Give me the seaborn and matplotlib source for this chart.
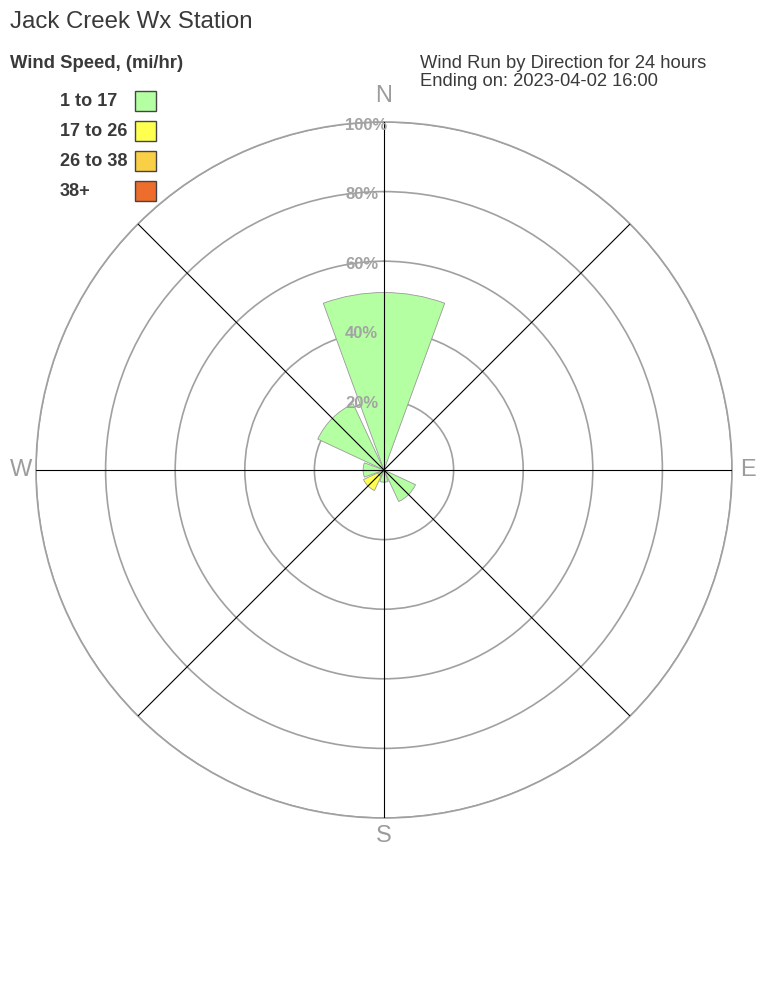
import numpy as np
import matplotlib
matplotlib.use("Agg")
import matplotlib.pyplot as plt
from matplotlib.patches import Rectangle
import seaborn as sns

# ---- data ----
directions = ["N", "NE", "E", "SE", "S", "SW", "W", "NW"]
dir_degrees = [0, 45, 90, 135, 180, 225, 270, 315]
speed_bins = ["1 to 17", "17 to 26", "26 to 38", "38+"]
pct_1_17 = [51.0, 0.0, 0.0, 10.0, 3.5, 2.0, 6.0, 21.0]
pct_17_26 = [0.0, 0.0, 0.0, 0.0, 0.0, 4.5, 0.0, 0.0]
pct_26_38 = [0.0, 0.0, 0.0, 0.0, 0.0, 0.0, 0.0, 0.0]
pct_38_up = [0.0, 0.0, 0.0, 0.0, 0.0, 0.0, 0.0, 0.0]
ring_ticks = [20, 40, 60, 80, 100]
ring_labels = ["20%", "40%", "60%", "80%", "100%"]
bin_colors = ["#b3ffa1", "#ffff50", "#f9cf46", "#ee6c2c"]

title = "Jack Creek Wx Station"
legend_title = "Wind Speed, (mi/hr)"
subtitle_lines = ["Wind Run by Direction for 24 hours", "Ending on: 2023-04-02 16:00"]

# ---- style ----
sns.set_style("white")
plt.rcParams["font.family"] = ["Liberation Sans", "DejaVu Sans"]
palette = sns.color_palette(bin_colors)

W, H = 768, 1008
fig = plt.figure(figsize=(W / 100, H / 100), dpi=100)
fig.patch.set_facecolor("white")

cx, cy, R = 384, 470, 348
ax = fig.add_axes([(cx - R) / W, (H - cy - R) / H, 2 * R / W, 2 * R / H],
                  projection="polar")
ax.set_theta_zero_location("N")
ax.set_theta_direction(-1)
ax.set_ylim(0, 100)
ax.set_xticks([])
ax.set_rticks(ring_ticks)
ax.set_yticklabels([])
ax.yaxis.grid(True, color="#a0a0a0", linewidth=1.2)
ax.spines["polar"].set_color("#a0a0a0")
ax.spines["polar"].set_linewidth(1.2)
ax.set_axisbelow(True)
ax.set_facecolor("white")

theta = np.radians(dir_degrees)
width = np.radians(40)
bottom = np.zeros(len(directions))
for vals, col in zip([pct_1_17, pct_17_26, pct_26_38, pct_38_up], palette):
    vals = np.array(vals)
    m = vals > 0
    if m.any():
        ax.bar(theta[m], vals[m], width=width, bottom=bottom[m], color=col,
               edgecolor="#9a9a9a", linewidth=0.6, zorder=2)
    bottom = bottom + vals

for t in theta:
    ax.plot([t, t], [0, 100], color="black", linewidth=0.8, zorder=3)

for r, lab in zip(ring_ticks, ring_labels):
    ax.annotate(lab, xy=(0, r), xytext=(-39, -3), textcoords="offset pixels",
                ha="left", va="center", fontsize=12, fontweight="bold",
                color="#a3a3a3", zorder=5, annotation_clip=False)

# compass labels
def ftext(x, y, s, **kw):
    fig.text(x / W, 1 - y / H, s, **kw)

comp_kw = dict(fontsize=17, color="#9c9c9c", ha="center", va="center")
ftext(384, 96, "N", **comp_kw)
ftext(21, 470, "W", **comp_kw)
ftext(748, 470, "E", **comp_kw)
ftext(384, 836, "S", **comp_kw)

txt_col = "#3a3a3a"
ftext(10, 22, title, fontsize=17.3, color=txt_col, ha="left", va="center")
ftext(10, 64, legend_title, fontsize=13.3, fontweight="bold", color=txt_col,
      ha="left", va="center")
for i, line in enumerate(subtitle_lines):
    ftext(420, 63 + 19 * i, line, fontsize=13.2, color=txt_col, ha="left", va="center")

for i, (lab, col) in enumerate(zip(speed_bins, palette)):
    yc = 101 + 30 * i
    ftext(60, yc, lab, fontsize=13.1, fontweight="bold", color=txt_col,
          ha="left", va="center")
    fig.add_artist(Rectangle((135 / W, 1 - (yc + 10) / H), 21 / W, 20 / H,
                             transform=fig.transFigure, facecolor=col,
                             edgecolor="#444444", linewidth=1))

fig.savefig("out.png", dpi=100, facecolor="white")
